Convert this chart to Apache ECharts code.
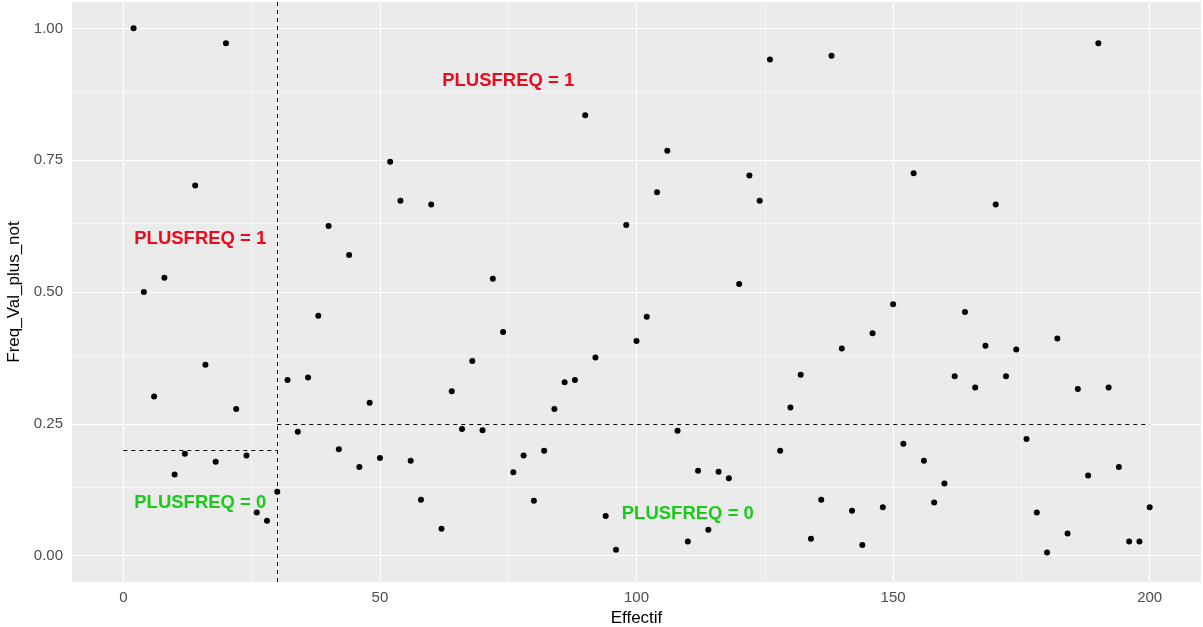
<!DOCTYPE html>
<html>
<head>
<meta charset="utf-8">
<script src="https://cdn.jsdelivr.net/npm/echarts@6/dist/echarts.min.js"></script>
<style>
  html, body { margin: 0; padding: 0; background: #ffffff; }
  #chart { width: 1203px; height: 627px; }
</style>
</head>
<body>
<div id="chart"></div>
<script>
// Effectif (x) and Freq_Val_plus_not (y) for each observation
const effectif = [
  2, 4, 6, 8, 10, 12, 14, 16, 18, 20, 22, 24, 26, 28, 30, 32, 34, 36, 38, 40,
  42, 44, 46, 48, 50, 52, 54, 56, 58, 60, 62, 64, 66, 68, 70, 72, 74, 76, 78, 80,
  82, 84, 86, 88, 90, 92, 94, 96, 98, 100, 102, 104, 106, 108, 110, 112, 114, 116, 118, 120,
  122, 124, 126, 128, 130, 132, 134, 136, 138, 140, 142, 144, 146, 148, 150, 152, 154, 156, 158, 160,
  162, 164, 166, 168, 170, 172, 174, 176, 178, 180, 182, 184, 186, 188, 190, 192, 194, 196, 198, 200
];
const freqValPlusNot = [
  1.000, 0.500, 0.302, 0.527, 0.154, 0.193, 0.702, 0.362, 0.178, 0.972,
  0.278, 0.190, 0.082, 0.066, 0.121, 0.333, 0.235, 0.338, 0.455, 0.625,
  0.202, 0.570, 0.168, 0.290, 0.185, 0.747, 0.673, 0.180, 0.106, 0.666,
  0.051, 0.312, 0.240, 0.369, 0.238, 0.525, 0.424, 0.158, 0.190, 0.104,
  0.199, 0.278, 0.329, 0.333, 0.835, 0.376, 0.075, 0.011, 0.627, 0.407,
  0.453, 0.689, 0.768, 0.237, 0.027, 0.161, 0.049, 0.159, 0.147, 0.515,
  0.721, 0.673, 0.941, 0.199, 0.281, 0.343, 0.032, 0.106, 0.948, 0.393,
  0.085, 0.020, 0.422, 0.092, 0.477, 0.212, 0.725, 0.180, 0.101, 0.137,
  0.340, 0.462, 0.319, 0.398, 0.666, 0.340, 0.391, 0.221, 0.082, 0.006,
  0.412, 0.042, 0.316, 0.152, 0.972, 0.319, 0.168, 0.027, 0.027, 0.092
];

// Axis ticks and gridlines
const xTicks = [0, 50, 100, 150, 200];
const xMinor = [25, 75, 125, 175];
const yTicks = [0, 0.25, 0.5, 0.75, 1];
const yMinor = [0.125, 0.375, 0.625, 0.875];

// Thresholds: split on Effectif, then on frequency within each side
const effectifCut = 30;
const leftCut = { from: 0, to: 30, y: 0.2 };
const rightCut = { from: 30, to: 200, y: 0.25 };

// Region labels
const regionX = [15, 75, 15, 110];
const regionY = [0.6, 0.9, 0.1, 0.08];
const regionText = ['PLUSFREQ = 1', 'PLUSFREQ = 1', 'PLUSFREQ = 0', 'PLUSFREQ = 0'];
const regionColor = ['#ee0a1e', '#ee0a1e', '#18cc18', '#18cc18'];

const chart = echarts.init(document.getElementById('chart'), null, { renderer: 'canvas' });

const gridLineData = [];
xTicks.forEach(v => gridLineData.push({ xAxis: v, lineStyle: { width: 1.1 } }));
xMinor.forEach(v => gridLineData.push({ xAxis: v, lineStyle: { width: 0.55 } }));
yTicks.forEach(v => gridLineData.push({ yAxis: v, lineStyle: { width: 1.1 } }));
yMinor.forEach(v => gridLineData.push({ yAxis: v, lineStyle: { width: 0.55 } }));

const font = '"Liberation Sans", Arial, sans-serif';

chart.setOption({
  animation: false,
  backgroundColor: '#ffffff',
  grid: {
    left: 72, right: 2, top: 2, bottom: 45,
    containLabel: false, outerBoundsMode: 'none',
    show: true, backgroundColor: '#ebebeb', borderWidth: 0
  },
  xAxis: {
    type: 'value', min: -10, max: 210,
    name: 'Effectif', nameLocation: 'middle', nameGap: 26,
    nameTextStyle: { color: '#000000', fontSize: 17, fontFamily: font },
    axisLine: { show: false },
    splitLine: { show: false },
    axisTick: { show: true, length: 4, lineStyle: { color: '#333333', width: 1 }, customValues: xTicks },
    axisLabel: { color: '#4d4d4d', fontSize: 15, fontFamily: font, margin: 8, customValues: xTicks,
      formatter: v => String(v) }
  },
  yAxis: {
    type: 'value', min: -0.05, max: 1.05,
    name: 'Freq_Val_plus_not', nameLocation: 'middle', nameGap: 44, nameRotate: 90,
    nameTextStyle: { color: '#000000', fontSize: 17, fontFamily: font },
    axisLine: { show: false },
    splitLine: { show: false },
    axisTick: { show: true, length: 4, lineStyle: { color: '#333333', width: 1 }, customValues: yTicks },
    axisLabel: { color: '#4d4d4d', fontSize: 15, fontFamily: font, margin: 9, customValues: yTicks,
      formatter: v => v.toFixed(2) }
  },
  series: [
    {
      // panel gridlines
      type: 'scatter', data: [], silent: true, z: 1,
      markLine: {
        silent: true, symbol: 'none', animation: false, z: 1,
        label: { show: false },
        lineStyle: { color: '#ffffff', type: 'solid' },
        emphasis: { disabled: true },
        data: gridLineData
      }
    },
    {
      // split thresholds
      type: 'scatter', data: [], silent: true, z: 2,
      markLine: {
        silent: true, symbol: 'none', animation: false, z: 2,
        label: { show: false },
        lineStyle: { color: '#000000', type: [4, 4], width: 1 },
        emphasis: { disabled: true },
        data: [
          { xAxis: effectifCut },
          [{ coord: [leftCut.from, leftCut.y] }, { coord: [leftCut.to, leftCut.y] }],
          [{ coord: [rightCut.from, rightCut.y] }, { coord: [rightCut.to, rightCut.y] }]
        ]
      }
    },
    {
      // observations
      type: 'scatter', z: 3,
      symbol: 'circle', symbolSize: 6,
      itemStyle: { color: '#000000', opacity: 1 },
      data: effectif.map((x, i) => [x, freqValPlusNot[i]])
    },
    {
      // region labels
      type: 'scatter', z: 4, silent: true,
      symbolSize: 0,
      itemStyle: { opacity: 1 },
      data: regionX.map((x, i) => ({
        value: [x, regionY[i]],
        label: {
          show: true, position: 'inside', formatter: regionText[i],
          color: regionColor[i], fontSize: 18.5, fontWeight: 'bold', fontFamily: font
        }
      }))
    }
  ]
});
</script>
</body>
</html>
